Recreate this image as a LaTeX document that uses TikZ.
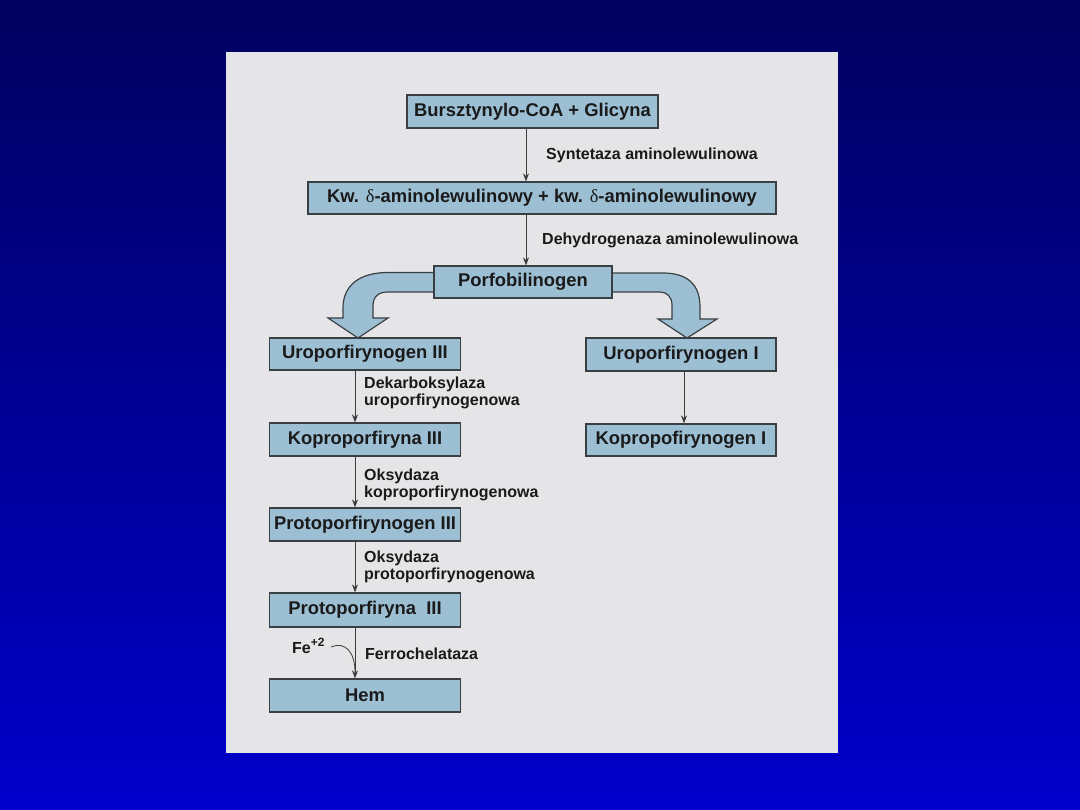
\documentclass[tikz,border=0pt]{standalone}
\usepackage{fontspec}
\setmainfont{Liberation Sans}
\newfontfamily\grkserif{Liberation Serif}
\usetikzlibrary{arrows.meta}
\pgfdeclarelayer{bg}
\pgfdeclarelayer{mid}
\pgfsetlayers{bg,mid,main}
\definecolor{boxfill}{HTML}{9DBFD4}
\definecolor{boxline}{HTML}{3A3F44}
\definecolor{panel}{HTML}{E5E5E7}
\definecolor{ink}{HTML}{1A1A1A}
\definecolor{bgtop}{HTML}{00005E}
\definecolor{bgbot}{HTML}{0000CC}
\begin{document}
\begin{tikzpicture}[x=1pt,y=-1pt,
  stepbox/.style={draw=boxline, line width=1.2pt, fill=boxfill, text=ink, inner sep=0pt,
     font=\fontsize{18.4}{22}\selectfont\bfseries},
  lbl/.style={anchor=west, text=ink, inner sep=0pt, align=left,
     font=\fontsize{16}{16.5}\selectfont\bfseries},
  arr/.style={draw=ink!85, line width=0.8pt, -{Stealth[length=8pt,width=6pt]}},
  blockarrow/.style={draw=boxline, line width=1.2pt, fill=boxfill}]
\useasboundingbox (0,0) rectangle (1080,810);
\begin{pgfonlayer}{bg}
  \shade[top color=bgtop, bottom color=bgbot] (0,0) rectangle (1080,810);
  \fill[panel] (226,52) rectangle (838,753);
\end{pgfonlayer}

% boxes
\node[stepbox, minimum width=251pt, minimum height=33pt] (b1) at (532.5,111.5) {Bursztynylo-CoA + Glicyna};
\node[stepbox, minimum width=468pt, minimum height=32pt] (b2) at (542,198) {Kw. {\grkserif\mdseries δ}-aminolewulinowy + kw. {\grkserif\mdseries δ}-aminolewulinowy};
\node[stepbox, minimum width=178pt, minimum height=32pt] (b3) at (523,282) {Porfobilinogen};
\node[stepbox, minimum width=191pt, minimum height=32pt] (b4) at (365,354) {Uroporfirynogen III};
\node[stepbox, minimum width=190pt, minimum height=33pt] (b5) at (681,354.5) {Uroporfirynogen I};
\node[stepbox, minimum width=191pt, minimum height=33pt] (b6) at (365,439.5) {Koproporfiryna III};
\node[stepbox, minimum width=190pt, minimum height=32pt] (b7) at (681,440) {Kopropofirynogen I};
\node[stepbox, minimum width=191pt, minimum height=33pt] (b8) at (365,524.5) {Protoporfirynogen III};
\node[stepbox, minimum width=191pt, minimum height=34pt] (b9) at (365,610) {Protoporfiryna\ \ III};
\node[stepbox, minimum width=191pt, minimum height=33pt] (b10) at (365,695.5) {Hem};

% axis coordinates for vertical connectors
\coordinate (tx) at (526,0);
\coordinate (lx) at (355,0);
\coordinate (rx) at (684,0);

\draw[arr] (b1.south -| tx) -- (b2.north -| tx);
\draw[arr] (b2.south -| tx) -- (b3.north -| tx);
\draw[arr] (b4.south -| lx) -- (b6.north -| lx);
\draw[arr] (b6.south -| lx) -- (b8.north -| lx);
\draw[arr] (b8.south -| lx) -- (b9.north -| lx);
\draw[arr] (b9.south -| lx) -- (b10.north -| lx);
\draw[arr] (b5.south -| rx) -- (b7.north -| rx);

% labels
\node[lbl] (l1) at (546,155) {Syntetaza aminolewulinowa};
\node[lbl] (l2) at (542,240) {Dehydrogenaza aminolewulinowa};
\node[lbl] (l3) at (364,393) {Dekarboksylaza\\uroporfirynogenowa};
\node[lbl] (l4) at (364,485) {Oksydaza\\koproporfirynogenowa};
\node[lbl] (l5) at (364,567) {Oksydaza\\protoporfirynogenowa};
\node[lbl] (l6) at (365,654) {Ferrochelataza};
\node[lbl] (fe) at (292,646) {Fe\textsuperscript{\fontsize{12}{12}\selectfont+2}};
\coordinate (fej) at (355,672);
\draw[draw=ink!85, line width=0.8pt] ([xshift=6pt,yshift=-1pt]fe.east) .. controls (345,641) and (355,652) .. (fej);

% curved block arrows
\begin{pgfonlayer}{mid}
  \draw[blockarrow] ([xshift=6pt]b3.west |- 0,272.5) -- (388,272.5)
     .. controls (360,272.5) and (343,285) .. (343,308) -- (343,318) -- (328,318)
     -- (358,338) -- (388,318) -- (373,318) -- (373,306)
     .. controls (373,297) and (378,292) .. (388,292)
     -- ([xshift=6pt]b3.west |- 0,292) -- cycle;
  \draw[blockarrow] ([xshift=-6pt]b3.east |- 0,273) -- (663,273)
     .. controls (688,273) and (700,285) .. (700,307) -- (700,319) -- (717,319)
     -- (687,338) -- (658,319) -- (672,319) -- (672,305)
     .. controls (672,297) and (667,292) .. (660,292)
     -- ([xshift=-6pt]b3.east |- 0,292) -- cycle;
\end{pgfonlayer}
\end{tikzpicture}
\end{document}
